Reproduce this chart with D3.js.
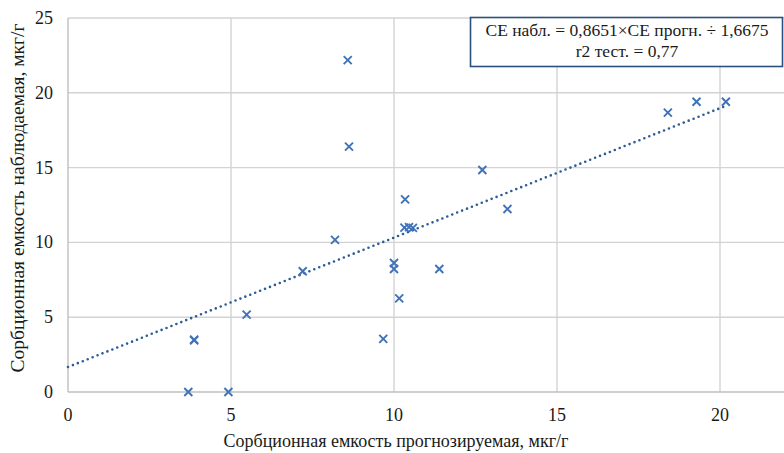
<!DOCTYPE html>
<html>
<head>
<meta charset="utf-8">
<script src="https://cdn.jsdelivr.net/npm/d3@7"></script>
<style>
  body { margin: 0; background: #fff; }
</style>
</head>
<body>
<svg id="chart" width="784" height="453"></svg>
<script>
// predicted sorption capacity (x) and observed (y), mkg/g
const predicted = [8.58, 8.62, 8.19, 7.20, 5.48, 3.87, 3.87, 3.69, 4.92, 9.67, 10.16,
  10.0, 10.0, 10.34, 10.32, 10.46, 10.58, 11.39, 12.71, 13.48, 18.40, 19.28, 20.18];
const observed = [22.18, 16.40, 10.17, 8.07, 5.17, 3.50, 3.45, 0, 0, 3.55, 6.26,
  8.62, 8.22, 12.88, 10.99, 11.02, 10.97, 8.22, 14.84, 12.23, 18.67, 19.40, 19.40];

const xTicks = [0, 5, 10, 15, 20];
const yTicks = [0, 5, 10, 15, 20, 25];

// trend line: CE obs = slope * CE pred + intercept
const slope = 0.8651;
const intercept = 1.6675;
const trendRange = [0, 20.2];

const legendLines = ["CE набл. = 0,8651×CE прогн. ÷ 1,6675", "r2 тест. = 0,77"];
const xTitle = "Сорбционная емкость прогнозируемая, мкг/г";
const yTitle = "Сорбционная емкость наблюдаемая, мкг/г";

const serif = "'Liberation Serif', 'Times New Roman', serif";
const margin = { top: 18, right: 0, bottom: 61, left: 68 };
const W = 784, H = 453;

const svg = d3.select("#chart");

const x = d3.scaleLinear().domain([0, 22]).range([margin.left, margin.left + 22 * 32.6]);
const y = d3.scaleLinear().domain([0, 25]).range([H - margin.bottom, margin.top]);

// every text gets its font inline with !important
function txt(sel, size) {
  return sel
    .style("font-family", serif, "important")
    .style("font-size", size + "px", "important")
    .style("fill", "#1a1a1a");
}

// grid lines
svg.append("g")
  .selectAll("line")
  .data(yTicks.filter(d => d > 0))
  .enter()
  .append("line")
  .attr("x1", x(0))
  .attr("x2", W)
  .attr("y1", d => y(d))
  .attr("y2", d => y(d))
  .attr("stroke", "#d3d3d3")
  .attr("stroke-width", 1.4);

svg.append("g")
  .selectAll("line")
  .data(xTicks)
  .enter()
  .append("line")
  .attr("x1", d => x(d))
  .attr("x2", d => x(d))
  .attr("y1", y(0))
  .attr("y2", y(25))
  .attr("stroke", d => d === 0 ? "#bfbfbf" : "#d3d3d3")
  .attr("stroke-width", 1.4);

// x axis line
svg.append("line")
  .attr("x1", x(0))
  .attr("x2", W)
  .attr("y1", y(0))
  .attr("y2", y(0))
  .attr("stroke", "#bfbfbf")
  .attr("stroke-width", 1.4);

// tick labels
txt(svg.append("g")
  .selectAll("text")
  .data(xTicks)
  .enter()
  .append("text")
  .attr("x", d => x(d))
  .attr("y", y(0) + 29)
  .attr("text-anchor", "middle")
  .text(d => d), 18);

txt(svg.append("g")
  .selectAll("text")
  .data(yTicks)
  .enter()
  .append("text")
  .attr("x", 53)
  .attr("y", d => y(d) + 6)
  .attr("text-anchor", "end")
  .text(d => d), 18);

// axis titles
txt(svg.append("text")
  .attr("x", 396)
  .attr("y", 447)
  .attr("text-anchor", "middle")
  .text(xTitle), 18);

txt(svg.append("text")
  .attr("transform", "translate(24,198) rotate(-90)")
  .attr("text-anchor", "middle")
  .text(yTitle), 19.5);

// dotted trend line
const trend = d3.line()
  .x(d => x(d))
  .y(d => y(slope * d + intercept));

svg.append("path")
  .datum(trendRange)
  .attr("d", trend)
  .attr("fill", "none")
  .attr("stroke", "#2c5b98")
  .attr("stroke-width", 2.6)
  .attr("stroke-linecap", "round")
  .attr("stroke-dasharray", "0 5.3");

// x markers
const pts = predicted.map((p, i) => ({ p, o: observed[i] }));
const s = 4;
svg.append("g")
  .selectAll("path")
  .data(pts)
  .enter()
  .append("path")
  .attr("transform", d => "translate(" + x(d.p) + "," + y(d.o) + ")")
  .attr("d", `M${-s},${-s}L${s},${s}M${-s},${s}L${s},${-s}`)
  .attr("fill", "none")
  .attr("stroke", "#3f72b6")
  .attr("stroke-width", 1.9);

// equation box
svg.append("rect")
  .attr("x", 470.5)
  .attr("y", 17.5)
  .attr("width", 312)
  .attr("height", 49)
  .attr("fill", "#fff")
  .attr("stroke", "#2d4f7c")
  .attr("stroke-width", 1.6);

txt(svg.append("g")
  .selectAll("text")
  .data(legendLines)
  .enter()
  .append("text")
  .attr("x", 627)
  .attr("y", (d, i) => 36 + i * 21)
  .attr("text-anchor", "middle")
  .text(d => d), 17.5);
</script>
</body>
</html>
